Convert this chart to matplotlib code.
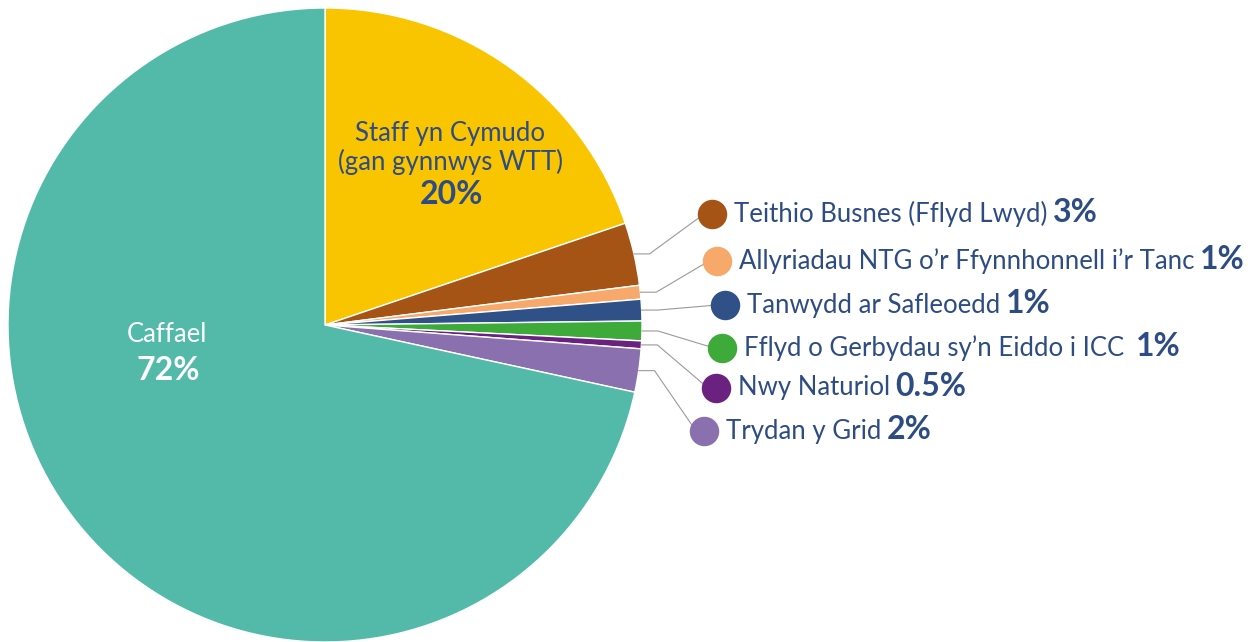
import matplotlib.pyplot as plt
import numpy as np

plt.rcParams['font.family'] = ['Lato', 'DejaVu Sans']

# slices clockwise from the top
labels = ["Staff yn Cymudo\n(gan gynnwys WTT)", "Teithio Busnes (Fflyd Lwyd)",
          "Allyriadau NTG o’r Ffynnhonnell i’r Tanc", "Tanwydd ar Safleoedd",
          "Fflyd o Gerbydau sy’n Eiddo i ICC ", "Nwy Naturiol", "Trydan y Grid", "Caffael"]
values = [19.8, 3.2, 0.7, 1.1, 1.0, 0.4, 2.2, 71.6]
pct_text = ["20%", "3%", "1%", "1%", "1%", "0.5%", "2%", "72%"]
colors = ["#F9C400", "#A55416", "#F6A96A", "#2F5187", "#3DAA3A", "#6A2180", "#8B70B0", "#53BAA9"]

NAVY = "#2E4C84"
W, H = 1253, 642

fig = plt.figure(figsize=(W / 100, H / 100), dpi=100)
ax = fig.add_axes([0, 0, 1, 1])

cx, cy, R = 325, H - 325, 317
wedges, _ = ax.pie(values, colors=colors, startangle=90, counterclock=False,
                   center=(cx, cy), radius=R,
                   wedgeprops=dict(edgecolor="white", linewidth=1))

# legend markers for the small slices (pixel positions, y from top)
marker_pos = [(712, 214), (717, 261), (725, 305), (722, 348), (716, 388), (704, 431)]
for i, (mx, my) in enumerate(marker_pos, start=1):
    w = wedges[i]
    ang = np.deg2rad((w.theta1 + w.theta2) / 2)
    x0, y0 = cx + R * np.cos(ang), cy + R * np.sin(ang)
    x1 = cx + (R + 16) * np.cos(ang)
    my_d = H - my
    ax.plot([x0, x1, mx - 8], [y0, y0, my_d], color="#9A9A9A", lw=0.8, zorder=3)
    ax.scatter([mx], [my_d], s=450, color=colors[i], zorder=4, linewidths=0)
    t = ax.text(mx + 22, my_d, labels[i], color=NAVY, fontsize=18.5,
                ha="left", va="center")
    ax.annotate(pct_text[i], xy=(1, 0.5), xycoords=t, xytext=(4, 1),
                textcoords="offset points", color=NAVY, fontsize=23,
                fontweight="bold", ha="left", va="center")

# labels inside the large slices
ax.text(450, H - 148, labels[0], color=NAVY, fontsize=18.5, ha="center",
        va="center", linespacing=1.1)
ax.text(451, H - 195, pct_text[0], color=NAVY, fontsize=23, fontweight="bold",
        ha="center", va="center")
ax.text(167, H - 334, labels[7], color="white", fontsize=18.5, ha="center", va="center")
ax.text(168, H - 371, pct_text[7], color="white", fontsize=23, fontweight="bold",
        ha="center", va="center")

ax.set_xlim(0, W)
ax.set_ylim(0, H)
ax.set_aspect("equal")
ax.axis("off")

fig.savefig("out.png", dpi=100, facecolor="white")
